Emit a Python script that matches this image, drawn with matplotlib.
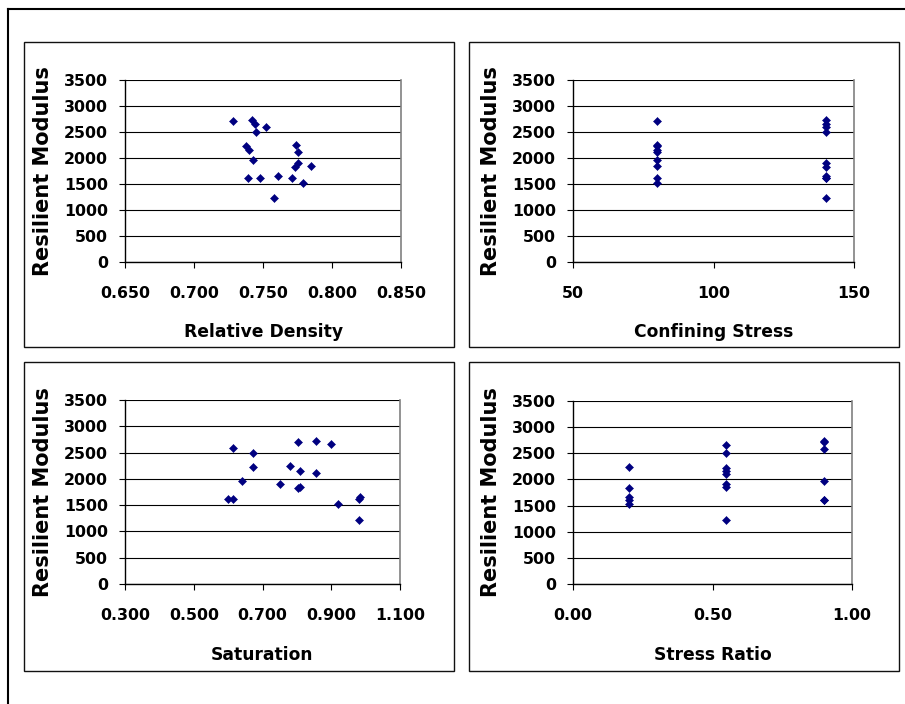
import matplotlib.pyplot as plt
from matplotlib.lines import Line2D
from matplotlib.patches import Rectangle
from matplotlib.ticker import FormatStrFormatter

# one entry per test specimen
modulus = [1608, 1608, 2589, 1962, 2500, 2222, 1905, 2247, 2709, 1829,
           1854, 2158, 2728, 2108, 2658, 1525, 1222, 1614, 1658]
relative_density = [0.739, 0.748, 0.752, 0.743, 0.745, 0.738, 0.775, 0.774, 0.728, 0.773,
                    0.785, 0.740, 0.742, 0.775, 0.744, 0.779, 0.758, 0.771, 0.761]
saturation = [0.600, 0.613, 0.613, 0.641, 0.672, 0.672, 0.752, 0.779, 0.802, 0.802,
              0.808, 0.808, 0.855, 0.856, 0.898, 0.920, 0.980, 0.982, 0.984]
confining_stress = [80, 140, 140, 80, 140, 80, 140, 80, 80, 140,
                    80, 80, 140, 80, 140, 80, 140, 140, 140]
stress_ratio = [0.9, 0.9, 0.9, 0.9, 0.55, 0.55, 0.55, 0.2, 0.9, 0.2,
                0.55, 0.55, 0.9, 0.55, 0.55, 0.2, 0.55, 0.2, 0.2]

y_ticks = [0, 500, 1000, 1500, 2000, 2500, 3000, 3500]

W, H = 905, 704
FONT = "DejaVu Sans"

fig = plt.figure(figsize=(W / 100, H / 100), dpi=100)


def fig_rect(left, top, right, bottom):
    return [left / W, 1 - bottom / H, (right - left) / W, (bottom - top) / H]


# outer frame (only the left and top edges are visible)
fig.add_artist(Line2D([8 / W, 8 / W], [0, 1 - 9 / H], transform=fig.transFigure,
                      color="black", lw=1.5))
fig.add_artist(Line2D([8 / W, 1], [1 - 9 / H, 1 - 9 / H], transform=fig.transFigure,
                      color="black", lw=1.5))

panels = [
    # x data, xlim, xticks, format, xlabel, axes px, chart box px
    (relative_density, (0.65, 0.85), [0.65, 0.70, 0.75, 0.80, 0.85], "%.3f",
     "Relative Density", (125, 80, 401, 262), (24, 42, 454, 347)),
    (confining_stress, (50, 150), [50, 100, 150], "%d",
     "Confining Stress", (573, 80, 854, 262), (469, 42, 899, 347)),
    (saturation, (0.3, 1.1), [0.3, 0.5, 0.7, 0.9, 1.1], "%.3f",
     "Saturation", (125, 400, 400, 584), (24, 362, 454, 671)),
    (stress_ratio, (0.0, 1.0), [0.0, 0.5, 1.0], "%.2f",
     "Stress Ratio", (573, 401, 852, 584), (469, 362, 899, 671)),
]

for xdata, xlim, xticks, fmt, xlabel, ax_px, box_px in panels:
    bl, bt, br, bb = box_px
    fig.add_artist(Rectangle((bl / W, 1 - bb / H), (br - bl) / W, (bb - bt) / H,
                             transform=fig.transFigure, fill=False,
                             edgecolor="#111111", lw=1.0))

    ax = fig.add_axes(fig_rect(*ax_px))
    ax.plot(xdata, modulus, ls="none", marker="D", ms=4.0,
            color="#000080", mec="#000080", mew=0.4, zorder=3)

    ax.set_xlim(*xlim)
    ax.set_ylim(0, 3500)
    ax.set_xticks(xticks)
    ax.set_yticks(y_ticks)
    ax.xaxis.set_major_formatter(FormatStrFormatter(fmt))
    ax.yaxis.grid(True, color="black", lw=0.8)
    ax.set_axisbelow(True)

    for side in ("left", "bottom"):
        ax.spines[side].set_color("black")
        ax.spines[side].set_linewidth(1.0)
    ax.spines["right"].set_color("#808080")
    ax.spines["right"].set_linewidth(1.2)
    ax.spines["top"].set_visible(False)

    ax.tick_params(axis="both", direction="out", length=4.3, width=0.8, color="black")
    ax.tick_params(axis="y", pad=8)
    ax.tick_params(axis="x", pad=13)
    for lab in ax.get_xticklabels() + ax.get_yticklabels():
        lab.set_fontfamily(FONT)
        lab.set_fontweight("bold")
        lab.set_fontsize(11.3)

    left, top, right, bottom = ax_px
    ax.set_xlabel(xlabel, fontfamily=FONT, fontweight="bold", fontsize=12.3)
    ax.set_ylabel("Resilient Modulus", fontfamily=FONT, fontweight="bold", fontsize=15)
    # label offsets in pixels from the plot area
    ax.xaxis.set_label_coords(0.5, -61.5 / (bottom - top))
    ax.yaxis.set_label_coords(-72 / (right - left), 0.5)

fig.savefig("out.png", dpi=100)
